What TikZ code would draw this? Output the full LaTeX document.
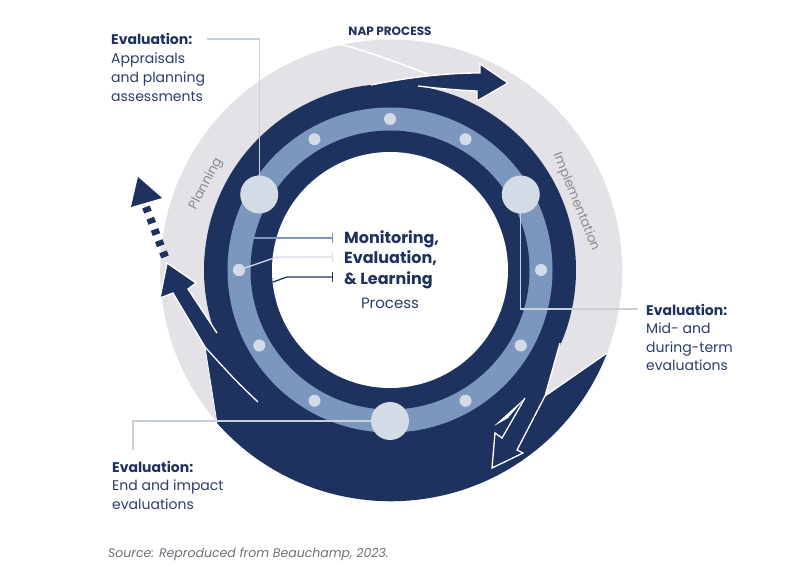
\documentclass[tikz,border=0pt]{standalone}
\usepackage{fontspec}
\setmainfont{Poppins}
\usetikzlibrary{calc,arrows.meta}
\definecolor{navy}{HTML}{1E3260}
\definecolor{txtnavy}{HTML}{2C3D6C}
\definecolor{ringblue}{HTML}{7B97BE}
\definecolor{nodefill}{HTML}{D3DBE6}
\definecolor{ringgray}{HTML}{E4E2E6}
\definecolor{connc}{HTML}{C8D0DE}
\definecolor{labgray}{HTML}{8A8A95}
\definecolor{srcgray}{HTML}{6E6E78}
\begin{document}
\begin{tikzpicture}[x=1pt,y=-1pt,
  bignode/.style={circle,fill=nodefill,minimum size=38pt,inner sep=0pt},
  smalldot/.style={circle,fill=nodefill,minimum size=12pt,inner sep=0pt},
  conn/.style={draw=connc,line width=1.2pt},
  whiteline/.style={draw=white,line width=1.3pt,line join=miter},
  lblbold/.style={anchor=base west,inner sep=0pt,text=navy,font=\fontsize{14}{17}\selectfont\bfseries},
  lbltext/.style={anchor=base west,inner sep=0pt,text=txtnavy,font=\fontsize{14}{17}\selectfont},
  ctrbold/.style={anchor=base west,inner sep=0pt,text=navy,font=\fontsize{16}{19}\selectfont\bfseries},
  ringlabel/.style={inner sep=0pt,text=labgray,font=\fontsize{13}{15}\selectfont},
  barline/.style={line width=1.3pt,-{Bar[width=10pt]}}]
\useasboundingbox (0,0) rectangle (800,569);
\coordinate (C) at (390,270);

% grey NAP process ring
\fill[ringgray] (C) -- (545,396) -- (607,353) arc[start angle=20.9,end angle=-221.5,radius=231] -- cycle;
\draw[whiteline,line width=1.5pt] (340,44) .. controls (380,55) and (405,66) .. (428,74);

% outer dark band
\fill[navy] (C) circle[radius=186];
% bottom blob
\fill[navy] (607,353) -- (545,396) -- (560,343) -- (C) -- (205,347) -- (217,423) arc[start angle=138.5,end angle=20.9,radius=232] -- cycle;
% top arrow
\fill[navy] (C) -- (371,85) .. controls (400,79) and (440,73) .. (480,73) -- (480,64) -- (508,83) -- (477,101) -- (477,91) .. controls (455,90) and (435,88) .. (418,86) -- cycle;
\draw[whiteline] (371,85) .. controls (400,79) and (440,73) .. (480,73) -- (480,64) -- (508,83) -- (477,101) -- (477,91) .. controls (455,90) and (435,88) .. (418,86);
% left arrow
\fill[navy] (C) -- (258,402) .. controls (235,380) .. (205,347) -- (173,293) -- (160,298) -- (167,263) -- (196,283) -- (188,289) -- (217,333) -- cycle;
\draw[whiteline] (258,402) .. controls (235,380) .. (205,347) -- (173,293) -- (160,298) -- (167,263) -- (196,283) -- (188,289) -- (217,333);
\draw[whiteline,line width=0.8pt] (205,347) -- (217,423);
% hollow arrow bottom right
\draw[whiteline] (607,353) -- (545,396);
\draw[whiteline] (560,343) -- (545,396) -- (517,450) -- (523,453) -- (492,468) -- (495,433) -- (502,438) -- (525,398);
\fill[white] (525,398) -- (494,426) -- (508,418) -- cycle;

% dashed arrow
\coordinate (da) at (165,257);
\coordinate (db) at (146,207);
\draw[navy,line width=8pt,dash pattern=on 5.5pt off 6.5pt] (da) -- (db);
\fill[navy] (138,177) -- (131,207) -- (162,198) -- cycle;

% inner rings
\fill[ringblue] (C) circle[radius=162.5];
\fill[navy] (C) circle[radius=139.5];
\fill[white] (C) circle[radius=118];

% connectors to the label blocks
\coordinate (c1) at (207,39);
\coordinate (c2) at (638,309);
\coordinate (c3) at (133,450);
\coordinate (p1) at ($(C)+(210:151)$);
\coordinate (p2) at ($(C)+(330:151)$);
\coordinate (p3) at ($(C)+(90:151)$);
\draw[conn] (c1) -| (p1);
\draw[conn] (p2) |- (c2);
\draw[conn] (p3) -| (c3);
\node[bignode] (n1) at (p1) {};
\node[bignode] (n2) at (p2) {};
\node[bignode] (n3) at (p3) {};

% small dots
\foreach \a in {0,30,60,120,150,180,240,270,300}
  \node[smalldot] (d\a) at ($(C)+(\a:151)$) {};

% centre callouts
\coordinate (e1) at (253,238);
\coordinate (f1) at (333,238);
\coordinate (e2) at (277,257);
\coordinate (f2) at (333,257);
\coordinate (g3) at (273,282);
\coordinate (e3) at (287,277);
\coordinate (f3) at (333,277);
\draw[barline,ringblue] (e1) -- (f1);
\draw[barline,nodefill] (d180.center) -- (e2) -- (f2);
\node[smalldot] at (d180) {};
\draw[barline,navy] (g3) -- (e3) -- (f3);

\node[ctrbold] (m1) at (344,243.5) {Monitoring,};
\node[ctrbold] (m2) at (344,264) {Evaluation,};
\node[ctrbold] (m3) at (344,284) {\& Learning};
\node[anchor=base,inner sep=0pt,text=txtnavy,font=\fontsize{15}{18}\selectfont] (m4) at (390,308) {Process};

% label blocks
\node[lblbold] (a1) at (111,45) {Evaluation:};
\node[lbltext] (a2) at (111,64) {Appraisals};
\node[lbltext] (a3) at (111,83) {and planning};
\node[lbltext] (a4) at (111,102) {assessments};

\node[lblbold] (b1) at (646,315) {Evaluation:};
\node[lbltext] (b2) at (646,333.5) {Mid- and};
\node[lbltext] (b3) at (646,352) {during-term};
\node[lbltext] (b4) at (646,370.5) {evaluations};

\node[lblbold] (k1) at (112,472) {Evaluation:};
\node[lbltext] (k2) at (112,490.5) {End and impact};
\node[lbltext] (k3) at (112,509) {evaluations};

% ring labels
\node[anchor=base,inner sep=0pt,text=navy,font=\fontsize{12}{14}\selectfont\bfseries] (nap) at (390,36) {NAP PROCESS};
\node[ringlabel,rotate=62] (plan) at (206,184) {Planning};
\node[ringlabel,rotate=-68] (impl) at (576,202) {Implementation};

\node[anchor=base west,inner sep=0pt,text=srcgray,font=\fontsize{12.5}{15}\selectfont\itshape] (src) at (108,557) {Source: Reproduced from Beauchamp, 2023.};
\end{tikzpicture}
\end{document}
